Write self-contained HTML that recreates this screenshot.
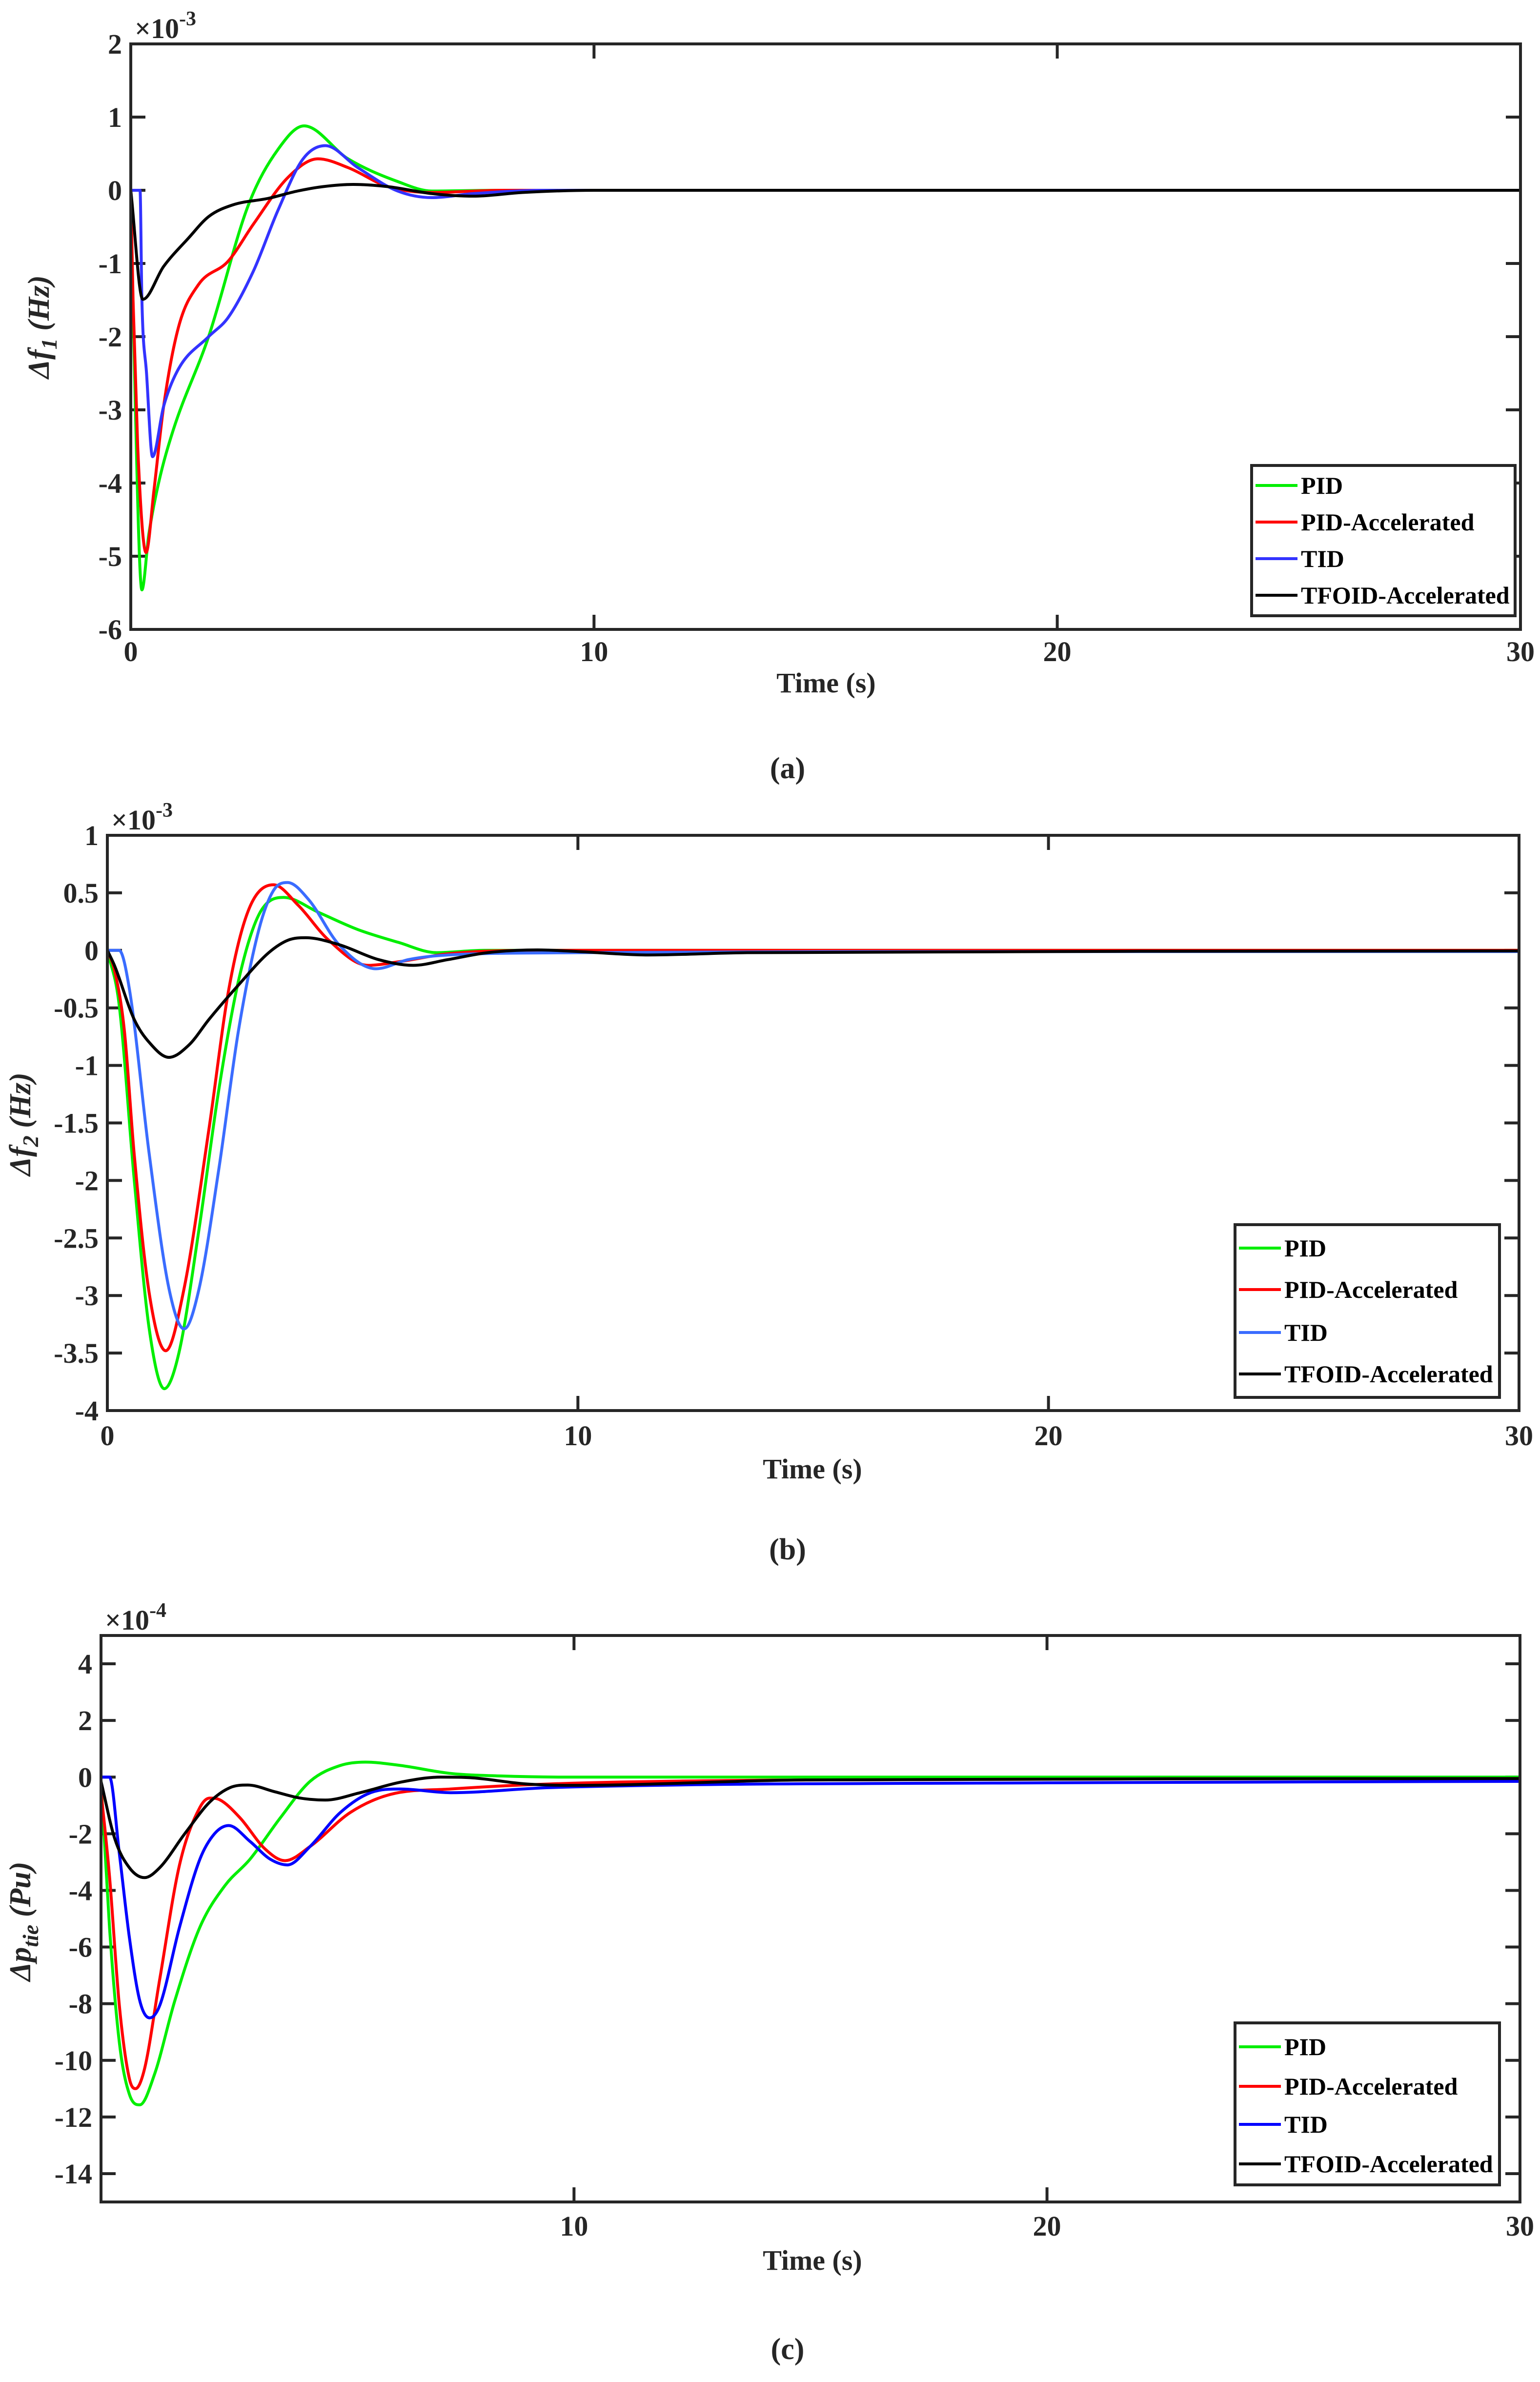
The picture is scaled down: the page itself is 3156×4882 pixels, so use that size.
<!DOCTYPE html>
<html><head><meta charset="utf-8">
<style>
html,body{margin:0;padding:0;background:#fff;}
svg text{font-family:"Liberation Serif","Times New Roman",serif;font-weight:bold;fill:#262626;}
</style></head>
<body>
<svg id="chart" width="3156" height="4877" viewBox="0 0 3156 4877" font-family="Liberation Serif, serif" xmlns="http://www.w3.org/2000/svg"></svg>
<script>
// ---------- Data (values in axis units) ----------
const seriesNames = ["PID","PID-Accelerated","TID","TFOID-Accelerated"];
// Plot (a): Δf1 ×1e-3
const a_pid_t = [0,0.06,0.24,0.39,0.6,0.92,1.68,2.54,3.18,3.74,4.69,5.76,6.5,8,10,30];
const a_pid_v = [0,-1.9,-5.46,-4.7,-4.0,-3.27,-2.0,-0.2,0.56,0.88,0.43,0.12,-0.01,0,0,0];
const a_pida_t = [0,0.05,0.15,0.33,0.5,0.71,1.03,1.46,2.1,2.65,3.4,4.04,4.69,5.55,6.5,8,30];
const a_pida_v = [0,-1.5,-3.5,-4.95,-4.1,-2.95,-1.87,-1.29,-0.97,-0.46,0.18,0.43,0.31,0.05,-0.03,0,0];
const a_tid_t = [0,0.2,0.24,0.34,0.47,0.71,1.03,1.68,2.1,2.65,3.18,3.72,4.2,4.9,5.76,6.5,7.4,9,30];
const a_tid_v = [0,0,-1.5,-2.5,-3.64,-2.95,-2.44,-2.0,-1.74,-1.1,-0.27,0.43,0.61,0.31,-0.01,-0.1,-0.045,0,0];
const a_tf_t = [0,0.26,0.71,1.25,1.68,2.2,2.97,3.6,4.15,4.8,5.55,6.5,7.4,8.45,10,30];
const a_tf_v = [0,-1.49,-1.04,-0.65,-0.36,-0.2,-0.11,-0.01,0.05,0.08,0.05,-0.045,-0.08,-0.03,0,0];
// Plot (b): Δf2 ×1e-3
const b_pid_t = [0,0.25,0.57,0.89,1.21,1.52,1.95,2.37,2.79,3.22,3.75,4.49,5.33,6.18,7.0,8,30];
const b_pid_v = [0,-0.47,-1.99,-3.29,-3.81,-3.5,-2.42,-1.21,-0.26,0.31,0.46,0.33,0.18,0.07,-0.02,0,0];
const b_pida_t = [0,0.15,0.36,0.57,0.89,1.24,1.63,2.16,2.58,3.0,3.53,4.06,4.7,5.54,6.18,7.24,9,30];
const b_pida_v = [0,-0.17,-0.69,-1.77,-2.98,-3.48,-2.94,-1.55,-0.34,0.35,0.57,0.39,0.09,-0.13,-0.1,-0.03,0,0];
const b_tid_t = [0,0.25,0.47,0.89,1.31,1.63,1.95,2.37,2.79,3.22,3.53,3.83,4.28,4.92,5.71,6.4,7.24,10,20,30];
const b_tid_v = [0,0,-0.34,-1.77,-2.94,-3.29,-2.94,-1.9,-0.69,0.18,0.52,0.59,0.44,0.05,-0.16,-0.08,-0.04,-0.02,-0.01,-0.01];
const b_tf_t = [0,0.15,0.57,0.89,1.31,1.74,2.16,2.79,3.43,3.85,4.22,4.92,5.76,6.5,7.24,8.08,9.14,10,11.5,13.6,30];
const b_tf_v = [0,-0.13,-0.6,-0.8,-0.93,-0.82,-0.6,-0.3,-0.02,0.09,0.11,0.05,-0.08,-0.13,-0.08,-0.02,0.004,-0.01,-0.04,-0.02,-0.005];
// Plot (c): Δptie ×1e-4
const c_pid_t = [0,0.18,0.39,0.6,0.82,1.13,1.56,2.09,2.62,3.15,3.79,4.42,5.06,5.59,6.33,7.39,8.45,10,30];
const c_pid_v = [-0.1,-5.3,-9.4,-11.2,-11.57,-10.5,-7.9,-5.3,-3.83,-2.9,-1.44,-0.15,0.41,0.53,0.41,0.13,0.04,0,0];
const c_pida_t = [0,0.18,0.39,0.6,0.73,0.92,1.24,1.66,2.09,2.3,2.51,2.94,3.47,3.89,4.42,5.27,6.12,7.39,9.5,15,30];
const c_pida_v = [-0.5,-3.5,-8.1,-10.65,-11.0,-10.3,-7.15,-3.1,-1.07,-0.74,-0.8,-1.44,-2.54,-2.95,-2.45,-1.25,-0.61,-0.42,-0.24,-0.1,-0.05];
const c_tid_t = [0,0.18,0.39,0.6,0.82,1.03,1.24,1.66,2.09,2.4,2.7,3.15,3.58,3.94,4.42,5.06,5.7,6.33,7.39,9.5,20,30];
const c_tid_v = [0,0,-2.73,-5.67,-7.9,-8.5,-8.07,-5.3,-2.9,-2.0,-1.71,-2.27,-2.9,-3.1,-2.45,-1.25,-0.55,-0.42,-0.55,-0.37,-0.2,-0.15];
const c_tf_t = [0,0.29,0.6,0.92,1.24,1.77,2.3,2.73,3.1,3.68,4.21,4.74,5.48,6.33,7.18,7.8,8.98,10,15,30];
const c_tf_v = [-0.15,-2.17,-3.2,-3.55,-3.2,-2.0,-0.88,-0.37,-0.28,-0.52,-0.74,-0.81,-0.55,-0.18,0,-0.02,-0.24,-0.29,-0.1,-0.05];
const a_yticks = [-6,-5,-4,-3,-2,-1,0,1,2];
const b_yticks = [-4,-3.5,-3,-2.5,-2,-1.5,-1,-0.5,0,0.5,1];
const c_yticks = [-14,-12,-10,-8,-6,-4,-2,0,2,4];
const a_xticks = [0,10,20,30];
const b_xticks = [0,10,20,30];
const c_xticks = [10,20,30];

const NS="http://www.w3.org/2000/svg";
const svg=document.getElementById('chart');
function mk(tag,attrs,parent,txt){const e=document.createElementNS(NS,tag);for(const k in attrs)e.setAttribute(k,attrs[k]);if(txt!==undefined)e.textContent=txt;(parent||svg).appendChild(e);return e;}
function fmt(v){return (v<0?'-':'')+String(Math.abs(v));}

// monotone cubic (Fritsch-Carlson) — no overshoot
function smoothPath(pts){
  const n=pts.length, d=[], m=new Array(n);
  for(let i=0;i<n-1;i++){const dx=pts[i+1][0]-pts[i][0];d.push(dx>0?(pts[i+1][1]-pts[i][1])/dx:0);}
  m[0]=d[0]; m[n-1]=d[n-2];
  for(let i=1;i<n-1;i++){ m[i]=(d[i-1]*d[i]<=0)?0:(d[i-1]+d[i])/2; }
  for(let i=0;i<n-1;i++){
    if(d[i]===0){m[i]=0;m[i+1]=0;continue;}
    const a=m[i]/d[i], b=m[i+1]/d[i], s=a*a+b*b;
    if(s>9){const t=3/Math.sqrt(s);m[i]=t*a*d[i];m[i+1]=t*b*d[i];}
  }
  let p='M'+pts[0][0].toFixed(1)+','+pts[0][1].toFixed(1);
  for(let i=0;i<n-1;i++){
    const h=(pts[i+1][0]-pts[i][0])/3;
    p+=' C'+(pts[i][0]+h).toFixed(1)+','+(pts[i][1]+m[i]*h).toFixed(1)+' '+(pts[i+1][0]-h).toFixed(1)+','+(pts[i+1][1]-m[i+1]*h).toFixed(1)+' '+pts[i+1][0].toFixed(1)+','+pts[i+1][1].toFixed(1);
  }
  return p;
}

function drawPlot(cfg){
  const g=mk('g',{});
  
  
  const {L,R,T,B,ymin,ymax}=cfg;
  const xs=t=>L+(t-0)/(30-0)*(R-L);
  const ys=v=>B-(v-ymin)/(ymax-ymin)*(B-T);
  const axc='#262626';
  cfg.yticks.forEach(v=>{
    const y=ys(v);
    const t1=mk('line',{x1:L,y1:y,x2:L+30,y2:y,stroke:axc,'stroke-width':6},g);
    
    
    const t2=mk('line',{x1:R-30,y1:y,x2:R,y2:y,stroke:axc,'stroke-width':6},g);
    
    
    const lb=mk('text',{x:L-18,y:y+20,'text-anchor':'end','font-size':58},g,fmt(v));
    
    
  });
  cfg.xticks.forEach(v=>{
    const x=xs(v);
    const t1=mk('line',{x1:x,y1:B,x2:x,y2:B-30,stroke:axc,'stroke-width':6},g);
    
    
    const t2=mk('line',{x1:x,y1:T,x2:x,y2:T+30,stroke:axc,'stroke-width':6},g);
    
    
    const lb=mk('text',{x:x,y:cfg.xlabY,'text-anchor':'middle','font-size':58},g,fmt(v));
    
    
  });
  const clip=mk('clipPath',{id:'clip-'+cfg.id},g);
  mk('rect',{x:L,y:T,width:R-L,height:B-T},clip);
  cfg.series.forEach((s,i)=>{
    const pts=s.t.map((t,k)=>[xs(t),ys(s.v[k])]);
    const p=mk('path',{d:smoothPath(pts),fill:'none',stroke:cfg.colors[i],'stroke-width':6,'stroke-linejoin':'round','clip-path':'url(#clip-'+cfg.id+')'},g);
    
    
  });
  const fr=mk('rect',{x:L,y:T,width:R-L,height:B-T,fill:'none',stroke:axc,'stroke-width':6},g);
  
  
  const ex=mk('text',{x:L+8,y:T-12,'font-size':58,'font-weight':'normal'},g);
  
  
  mk('tspan',{},ex,'×10');
  mk('tspan',{'font-size':42,dy:-26},ex,cfg.exp);
  const yl=mk('text',{transform:'translate('+cfg.ylx+','+cfg.yly+') rotate(-90)','text-anchor':'middle','font-size':62,'font-style':'italic'},g);
  
  
  mk('tspan',{},yl,'Δ'+cfg.ysym);
  mk('tspan',{'font-size':46,dy:16},yl,cfg.ysub);
  mk('tspan',{dy:-16},yl,' ('+cfg.yunit+')');
  const xl=mk('text',{x:cfg.xtx,y:cfg.xty,'text-anchor':'middle','font-size':58},g,'Time (s)');
  
  
  const cp=mk('text',{x:cfg.capx,y:cfg.capy,'text-anchor':'middle','font-size':62,'font-weight':'normal'},g);
  
  
  mk('tspan',{},cp,'(');
  mk('tspan',{'font-weight':'bold'},cp,cfg.cap);
  mk('tspan',{},cp,')');
  const lg=mk('g',{},g);
  
  
  const lb=cfg.legend;
  mk('rect',{x:lb.x,y:lb.y,width:lb.w,height:lb.h,fill:'#fff',stroke:axc,'stroke-width':6},lg);
  seriesNames.forEach((n,i)=>{
    const ey=lb.rows[i];
    const e=mk('g',{},lg);
    
    
    mk('line',{x1:lb.x+8,y1:ey,x2:lb.x+94,y2:ey,stroke:cfg.colors[i],'stroke-width':6},e);
    mk('text',{x:lb.x+101,y:ey+17,'font-size':50,style:'fill:#000'},e,n);
  });
}

drawPlot({id:'plot-a',L:268,R:3116,T:90,B:1290,ymin:-6,ymax:2,yticks:a_yticks,xticks:a_xticks,xlabY:1355,
  exp:'-3',ylx:100,yly:670,ysym:'f',ysub:'1',yunit:'Hz',xtx:1693,xty:1419,capx:1614,capy:1595,cap:'a',
  colors:['#00ee00','#ff0000','#3333ff','#000000'],
  series:[{t:a_pid_t,v:a_pid_v},{t:a_pida_t,v:a_pida_v},{t:a_tid_t,v:a_tid_v},{t:a_tf_t,v:a_tf_v}],
  legend:{x:2565,y:954,w:540,h:308,rows:[995,1070,1145,1220]}});
drawPlot({id:'plot-b',L:220,R:3113,T:1712,B:2891,ymin:-4,ymax:1,yticks:b_yticks,xticks:b_xticks,xlabY:2962,
  exp:'-3',ylx:62,yly:2304,ysym:'f',ysub:'2',yunit:'Hz',xtx:1665,xty:3030,capx:1614,capy:3196,cap:'b',
  colors:['#00ee00','#ff0000','#3a6cff','#000000'],
  series:[{t:b_pid_t,v:b_pid_v},{t:b_pida_t,v:b_pida_v},{t:b_tid_t,v:b_tid_v},{t:b_tf_t,v:b_tf_v}],
  legend:{x:2531,y:2510,w:542,h:354,rows:[2558,2643,2731,2816]}});
drawPlot({id:'plot-c',L:207,R:3115,T:3352,B:4513,ymin:-15,ymax:5,yticks:c_yticks,xticks:c_xticks,xlabY:4582,
  exp:'-4',ylx:62,yly:3938,ysym:'p',ysub:'tie',yunit:'Pu',xtx:1665,xty:4652,capx:1614,capy:4835,cap:'c',
  colors:['#00ee00','#ff0000','#0000ff','#000000'],
  series:[{t:c_pid_t,v:c_pid_v},{t:c_pida_t,v:c_pida_v},{t:c_tid_t,v:c_tid_v},{t:c_tf_t,v:c_tf_v}],
  legend:{x:2531,y:4146,w:542,h:332,rows:[4195,4276,4354,4435]}});
</script>
</body></html>
